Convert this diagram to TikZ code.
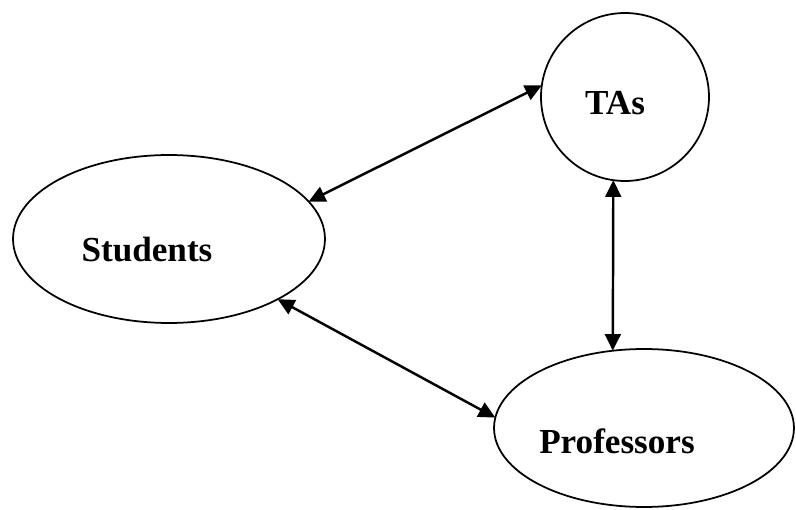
\documentclass[tikz,border=0pt]{standalone}
\usepackage{fontspec}
\setmainfont{Liberation Serif}
\usepackage{tikz}
\usetikzlibrary{shapes,arrows,positioning,calc,arrows.meta}

\tikzset{
    group/.style={draw, ellipse, line width=1.0pt, inner sep=0pt, outer sep=0pt},
    grouplabel/.style={font=\fontsize{20}{24}\selectfont\bfseries},
    link/.style={line width=1.4pt, {Triangle[length=9.5pt,width=9pt]}-{Triangle[length=9.5pt,width=9pt]}}
}

\begin{document}
\begin{tikzpicture}[x=0.02cm, y=-0.02cm]
    \useasboundingbox (0,0) rectangle (796,510);
    % Groups
    \node [group, minimum width=6.24cm, minimum height=3.36cm] (stud) at (169,239) {};
    \node [group, circle, minimum size=3.36cm] (ta) at (625,97) {};
    \node [group, minimum width=6.0cm, minimum height=3.16cm] (prof) at (644,428) {};
    % Labels
    \node [grouplabel] (studtext) at (147,250) {Students};
    \node [grouplabel] (tatext) at (615,103) {TAs};
    \node [grouplabel] (proftext) at (617,441) {Professors};
    % Links
    \draw [link] (stud.15) -- (ta.172);
    \draw [link] (stud.-29) -- (prof.176);
    \draw [link] (ta.262) -- (prof.112);
\end{tikzpicture}
\end{document}
